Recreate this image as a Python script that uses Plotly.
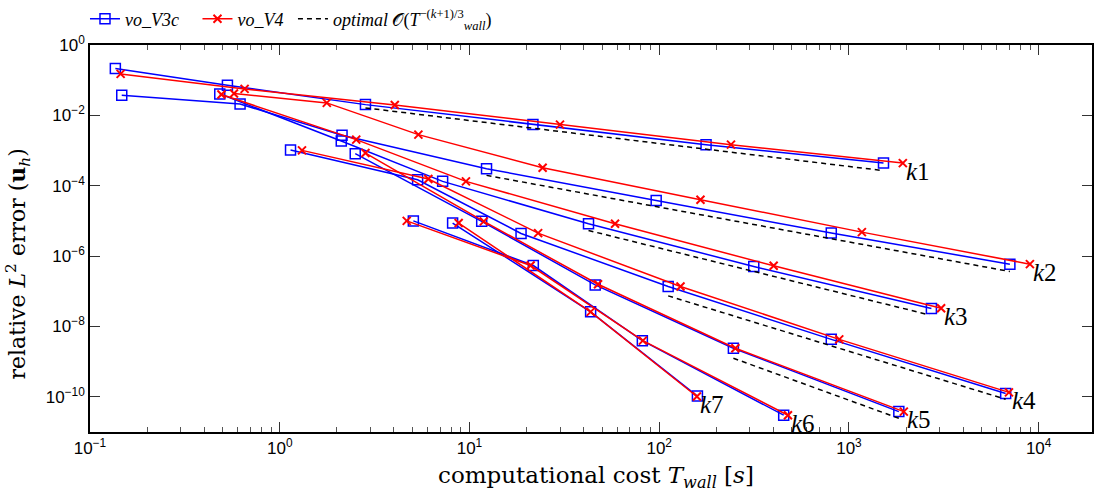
import math
import plotly.graph_objects as go

# ---------------- data ----------------
k_names = ["k1", "k2", "k3", "k4", "k5", "k6", "k7"]

v3c_x = [
    [0.136, 0.530, 2.83, 21.6, 176.6, 1521],
    [0.147, 0.618, 2.13, 12.3, 96.4, 807, 7050],
    [0.483, 2.11, 7.22, 42.4, 315, 2720],
    [1.14, 5.33, 18.7, 111.5, 807, 6700],
    [2.50, 11.6, 46.0, 246, 1832],
    [5.06, 21.7, 81.5, 453],
    [8.15, 43.5, 159],
]
v3c_y = [
    [0.214, 0.0719, 0.0202, 5.46e-3, 1.47e-3, 4.43e-4],
    [0.0373, 0.0211, 2.71e-3, 3.05e-4, 3.83e-5, 4.5e-6, 5.9e-7],
    [0.0407, 1.87e-3, 1.33e-4, 8.3e-6, 5.06e-7, 3.23e-8],
    [1.04e-3, 1.48e-4, 4.4e-6, 1.36e-7, 4.3e-9, 1.25e-10],
    [8.15e-4, 9.7e-6, 1.52e-7, 2.4e-9, 3.8e-11],
    [1.0e-5, 5.4e-7, 3.95e-9, 3.0e-11],
    [8.7e-6, 2.6e-8, 1.05e-10],
]
v4_x = [
    [0.145, 0.653, 4.04, 30.0, 239, 1923],
    [0.574, 1.77, 5.38, 24.3, 165, 1170, 8990],
    [0.493, 2.53, 9.58, 58.5, 401, 3060],
    [1.31, 6.07, 23.0, 129.5, 889, 6970],
    [2.83, 11.9, 47.6, 252, 1946],
    [4.67, 21.0, 82.0, 477],
    [8.77, 43.5, 158],
]
v4_y = [
    [0.151, 0.0565, 0.0198, 5.46e-3, 1.47e-3, 4.4e-4],
    [0.0416, 0.0226, 2.83e-3, 3.26e-4, 4.0e-5, 4.8e-6, 5.9e-7],
    [0.039, 2.04e-3, 1.33e-4, 8.3e-6, 5.3e-7, 3.3e-8],
    [1.01e-3, 1.55e-4, 4.5e-6, 1.36e-7, 4.3e-9, 1.34e-10],
    [8.5e-4, 9.7e-6, 1.58e-7, 2.4e-9, 3.8e-11],
    [1.0e-5, 5.4e-7, 3.95e-9, 3.0e-11],
    [8.7e-6, 2.6e-8, 1.02e-10],
]
# optimal-rate reference segments (start / end points)
opt_x = [
    [2.83, 1521],
    [12.3, 7050],
    [42.4, 2650],
    [111.5, 6700],
    [246, 1832],
]
opt_y = [
    [0.0163, 2.68e-4],
    [1.97e-4, 3.64e-7],
    [5.35e-6, 2.13e-8],
    [7.4e-8, 8.5e-11],
    [1.25e-9, 2.45e-11],
]

# tick positions (exponents) and labels
x_exps = [-1, 0, 1, 2, 3, 4]
y_exps = [-10, -8, -6, -4, -2, 0]
x_ticktext = ["10<sup>%s</sup>" % (str(e).replace("-", "−")) for e in x_exps]
y_ticktext = ["10<sup>%s</sup>" % (str(e).replace("-", "−")) for e in y_exps]

# ---------------- figure ----------------
BLUE = "#0000ff"
RED = "#ff0000"
SERIF = "Liberation Serif, Times New Roman, serif"
WSERIF = "DejaVu Serif, serif"
SANS = "Liberation Sans, Arial, sans-serif"
NB = "\u00a0"

fig = go.Figure()

for i in range(len(v3c_x)):
    fig.add_trace(go.Scatter(
        x=v3c_x[i], y=v3c_y[i], mode="lines+markers",
        line=dict(color=BLUE, width=1.5),
        marker=dict(symbol="square-open", size=10, color=BLUE, line=dict(width=1.5, color=BLUE)),
        name="<i>vo_V3c</i>" + NB * 3, legendgroup="v3c", showlegend=(i == 0),
    ))
for i in range(len(v4_x)):
    fig.add_trace(go.Scatter(
        x=v4_x[i], y=v4_y[i], mode="lines+markers",
        line=dict(color=RED, width=1.5),
        marker=dict(symbol="x-thin", size=8, color=RED, line=dict(width=2, color=RED)),
        name="<i>vo_V4</i>" + NB, legendgroup="v4", showlegend=(i == 0),
    ))
for i in range(len(opt_x)):
    fig.add_trace(go.Scatter(
        x=opt_x[i], y=opt_y[i], mode="lines",
        line=dict(color="black", width=1.5, dash="5px,4px"),
        name="<i>optimal</i> 𝒪(<i>T</i><sup>−(<i>k</i>+1)/3</sup><sub><i>wall</i></sub>)",
        legendgroup="opt", showlegend=(i == 0),
    ))

# k labels next to the last point of each curve (log axes -> log10 coords)
for i, name in enumerate(k_names):
    fig.add_annotation(
        x=math.log10(v4_x[i][-1]), y=math.log10(v4_y[i][-1]), xref="x", yref="y",
        text="<i>k</i>" + name[1:], showarrow=False,
        xanchor="left", yanchor="middle", xshift=1, yshift=-8,
        font=dict(family=SERIF, size=25, color="black"),
    )

# axis titles as annotations
fig.add_annotation(
    x=0.505, y=-0.115, xref="paper", yref="paper",
    text="computational cost <i>T</i><sub><i>wall</i></sub> [<i>s</i>]",
    showarrow=False, xanchor="center", yanchor="middle",
    font=dict(family=WSERIF, size=23, color="black"),
)
fig.add_annotation(
    x=-0.072, y=0.435, xref="paper", yref="paper",
    text="relative <i>L</i><sup>2</sup> error (<b>u</b><sub><i>h</i></sub>)",
    showarrow=False, textangle=-90, xanchor="center", yanchor="middle",
    font=dict(family=WSERIF, size=22, color="black"),
)

axis_common = dict(
    type="log", showgrid=False, zeroline=False,
    showline=True, linecolor="black", linewidth=1.5, mirror="ticks",
    ticks="inside", ticklen=10, tickwidth=1, tickcolor="#333333",
    tickfont=dict(family=SANS, size=17, color="black"),
)

fig.update_xaxes(
    **axis_common, range=[-1, 4.281],
    tickmode="array", tickvals=[10.0 ** e for e in x_exps], ticktext=x_ticktext,
    minor=dict(ticks="inside", ticklen=5, tickwidth=1, tickcolor="#555555", dtick="D1", showgrid=False),
)
fig.update_yaxes(
    **axis_common, range=[-11, 0],
    tickmode="array", tickvals=[10.0 ** e for e in y_exps], ticktext=y_ticktext,
)

fig.update_layout(
    width=1094, height=497,
    margin=dict(l=90, r=0, t=45, b=65),
    plot_bgcolor="white", paper_bgcolor="white",
    legend=dict(
        orientation="h", x=-0.005, y=1.067, xanchor="left", yanchor="middle",
        font=dict(family=SERIF, size=18, color="black"),
        bgcolor="rgba(0,0,0,0)", itemwidth=30, tracegroupgap=0,
    ),
)

fig.write_html("out.html")
